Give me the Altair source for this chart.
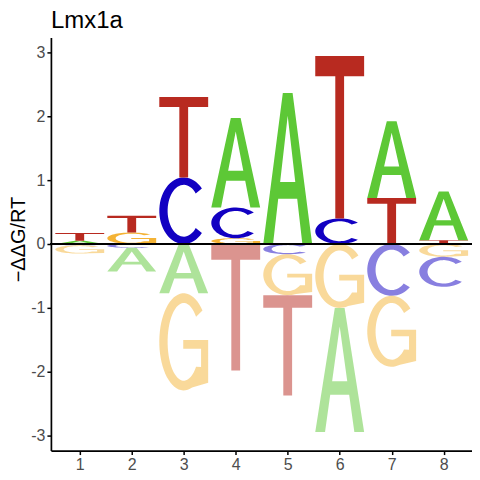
import numpy as np
import pandas as pd
import altair as alt

# ---- data ----
positions = [1, 2, 3, 4, 5, 6, 7, 8]
letters = ["A", "C", "G", "T"]
A_vals = [0.05, -0.37, -0.77, 1.40, 2.36, -1.94, 1.20, 0.76]
C_vals = [-0.02, -0.06, 1.04, 0.48, -0.16, 0.40, -0.81, -0.47]
G_vals = [-0.13, 0.18, -1.52, 0.09, -0.64, -1.00, -1.11, -0.20]
T_vals = [0.12, 0.26, 1.26, -1.98, -1.57, 2.54, 0.72, 0.06]
x_ticks = [1, 2, 3, 4, 5, 6, 7, 8]
y_ticks = [-3, -2, -1, 0, 1, 2, 3]
letter_colors = ["#5DC836", "#1200C2", "#F4B335", "#B82A20"]

# ---- glyph outlines in a unit box ----
def arc(rx, ry, a0, a1, n=48):
    t = np.radians(np.linspace(a0, a1, n))
    return list(zip(0.5 + rx * np.cos(t), 0.5 + ry * np.sin(t)))

def glyph(letter):
    if letter == "T":
        return [(0, 1), (1, 1), (1, 0.875), (0.59, 0.875), (0.59, 0), (0.41, 0),
                (0.41, 0.875), (0, 0.875)]
    if letter == "A":
        return [(0, 0), (0.2, 0), (0.306, 0.30),
                (0.345, 0.41), (0.5, 0.85), (0.655, 0.41), (0.345, 0.41),
                (0.306, 0.30), (0.694, 0.30), (0.8, 0), (1, 0), (0.6, 1), (0.4, 1)]
    if letter == "C":
        return arc(0.5, 0.5, 42, 318) + arc(0.33, 0.39, 318, 42)
    if letter == "G":
        return (arc(0.5, 0.5, 40, 290)
                + [(1.0, 0.08), (1.0, 0.52), (0.49, 0.52), (0.49, 0.43),
                   (0.855, 0.43), (0.855, 0.24)]
                + arc(0.33, 0.4, 320, 40))
    return []

vals = {"A": A_vals, "C": C_vals, "G": G_vals, "T": T_vals}
rows = []
gid = 0
for i, p in enumerate(positions):
    col = [(L, vals[L][i]) for L in letters]
    pos = sorted([c for c in col if c[1] > 0], key=lambda c: c[1])
    neg = sorted([c for c in col if c[1] < 0], key=lambda c: -c[1])
    for group, sign in ((pos, 1), (neg, -1)):
        cum = 0.0
        for L, v in group:
            h = abs(v)
            if sign > 0:
                lo, hi = cum, cum + h
            else:
                lo, hi = -(cum + h), -cum
            cum += h
            for k, (gx, gy) in enumerate(glyph(L)):
                rows.append({"gid": gid, "k": k, "letter": L,
                             "x": p + (gx - 0.5) * 0.94,
                             "y": lo + gy * (hi - lo),
                             "op": 1.0 if sign > 0 else 0.5})
            gid += 1
df = pd.DataFrame(rows)

xs = alt.Scale(domain=[0.445, 8.545], nice=False, zero=False)
ys = alt.Scale(domain=[-3.23, 3.23], nice=False, zero=False)

letters_layer = alt.Chart(df).mark_line(strokeWidth=0, interpolate="linear").encode(
    x=alt.X("x:Q", scale=xs,
            axis=alt.Axis(values=x_ticks, title=None, grid=False, tickSize=4,
                          labelPadding=2, format="d")),
    y=alt.Y("y:Q", scale=ys,
            axis=alt.Axis(values=y_ticks, title="−ΔΔG/RT", grid=False, tickSize=4,
                          labelPadding=2,
                          labelExpr="datum.value < 0 ? '-' + abs(datum.value) : '' + datum.value",
                          titleX=-26, titleY=202, titleAngle=-90,
                          titleAlign="center", titleBaseline="alphabetic")),
    detail="gid:N",
    order="k:Q",
    fill=alt.Fill("letter:N", scale=alt.Scale(domain=letters, range=letter_colors), legend=None),
    fillOpacity=alt.FillOpacity("op:Q", scale=None),
)

zero_line = alt.Chart(df).mark_rule(color="black", strokeWidth=1).encode(y=alt.datum(0))

chart = alt.layer(letters_layer, zero_line).properties(
    width=422, height=414,
    autosize=alt.AutoSizeParams(type="none"),
    padding={"left": 43, "top": 29, "right": 0, "bottom": 25},
    title=alt.TitleParams(text="Lmx1a", anchor="start", frame="group", fontSize=24,
                          fontWeight="normal", font="Liberation Sans", color="black",
                          offset=5, dy=25, baseline="bottom"),
).configure_view(stroke=None).configure_axis(
    domainColor="black", domainWidth=1.7, tickColor="black", tickWidth=1.5,
    labelFont="Liberation Sans", labelFontSize=16, labelColor="#4D4D4D",
    titleFont="Liberation Sans", titleFontSize=20, titleColor="black", titleFontWeight="normal",
)

chart.save("out.html", embed_options={"renderer": "svg", "actions": False})
